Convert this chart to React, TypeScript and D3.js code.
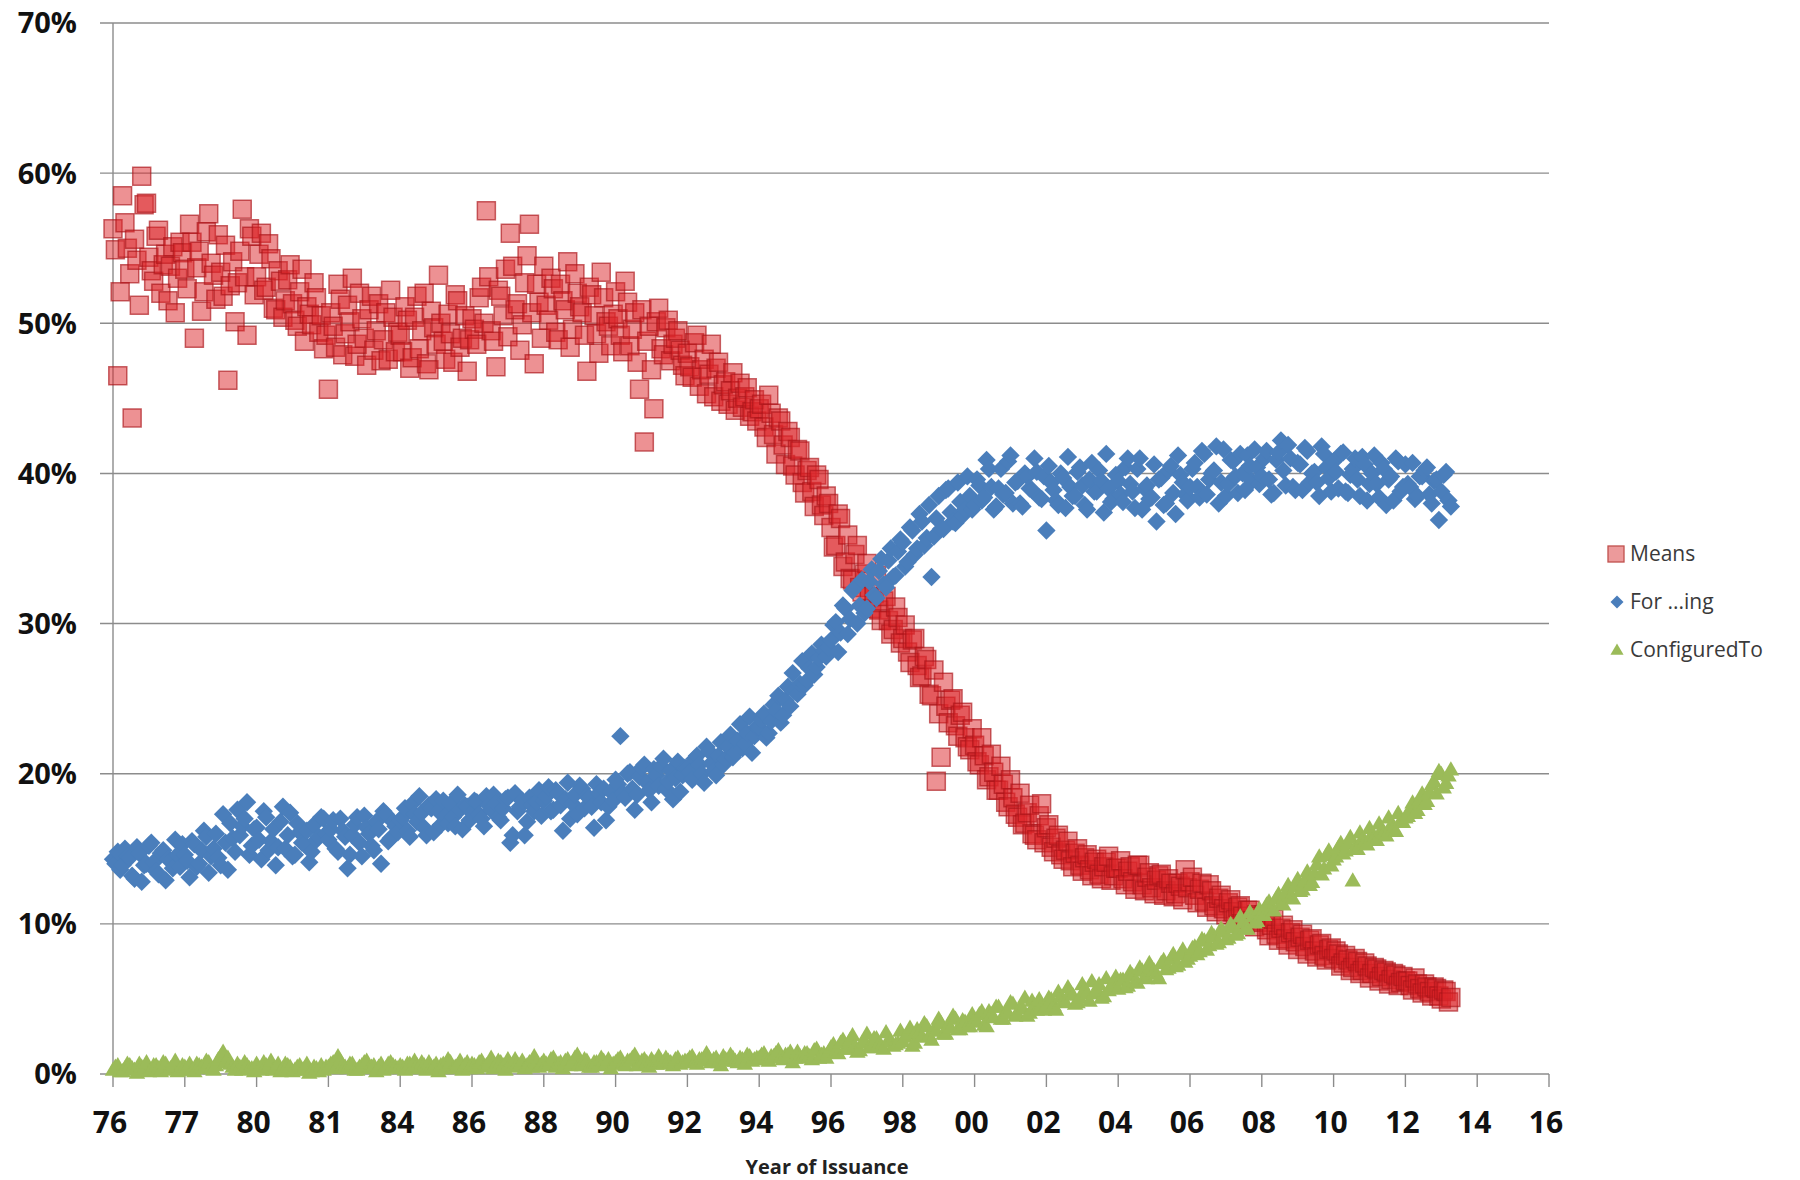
import { useEffect } from 'react';
import * as d3 from 'd3';

// x axis is a category-style axis: one tick label per position
const TICK_LABELS = ['76', '77', '80', '81', '84', '86', '88', '90', '92', '94', '96', '98', '00', '02', '04', '06', '08', '10', '12', '14', '16'];
const Y_TICKS = [0, 10, 20, 30, 40, 50, 60, 70];
const POINTS_PER_TICK = 15; // observations per array between two tick labels

// share of claims (%), one line per tick interval.
// "A" arrays sit on whole steps, "B" arrays on the half steps between them.
const meansA = [
  56.3, 46.5, 58.5, 55.0, 43.7, 54.2, 59.8, 58.0, 53.5, 55.8, 52.0, 54.6, 53.8, 50.7, 55.4,
  53.6, 56.6, 49.0, 54.8, 52.1, 57.3, 53.2, 55.9, 51.8, 46.2, 54.1, 52.7, 57.6, 49.2, 55.8,
  53.1, 56.0, 52.4, 54.3, 50.9, 52.8, 51.5, 53.9, 50.2, 52.1, 48.8, 50.6, 52.7, 49.4, 48.3,
  45.6, 49.8, 52.6, 47.9, 51.2, 53.0, 48.6, 50.3, 47.2, 51.8, 49.5, 47.5, 50.7, 52.2, 48.1,
  49.2, 51.1, 47.0, 50.4, 48.3, 52.0, 46.9, 49.7, 53.2, 48.8, 50.6, 47.4, 51.5, 49.0, 46.8,
  50.3, 48.6, 52.4, 57.5, 49.5, 47.1, 51.8, 53.6, 56.0, 50.9, 48.2, 52.7, 56.6, 47.3, 51.4,
  53.8, 50.2, 52.3, 48.9, 51.5, 54.1, 49.6, 52.0, 50.7, 46.8, 51.9, 49.3, 53.4, 50.1, 48.5,
  52.1, 49.2, 52.8, 48.5, 50.7, 45.6, 42.1, 49.8, 44.3, 51.0, 47.9, 50.2, 48.6, 49.5, 47.2,
  48.0, 46.4, 49.2, 46.9, 45.3, 48.6, 47.0, 44.8, 46.1, 45.5, 44.2, 46.0, 45.1, 43.8, 44.9,
  44.3, 43.1, 45.2, 42.6, 43.7, 41.9, 42.8, 40.5, 41.6, 39.4, 40.2, 38.8, 39.9, 37.9, 38.5,
  36.4, 35.2, 37.0, 34.1, 33.0, 34.6, 32.4, 33.3, 31.8, 32.0, 30.9, 31.5, 30.2, 29.6, 30.4,
  29.0, 28.1, 28.9, 27.2, 26.5, 27.6, 25.2, 19.5, 21.1, 24.5, 24.9, 23.2, 23.9, 22.4, 21.6,
  21.9, 20.6, 21.2, 19.8, 20.1, 18.9, 19.3, 17.8, 18.4, 17.1, 16.6, 17.4, 16.0, 15.6, 18.0,
  16.4, 15.1, 15.7, 14.6, 14.9, 14.2, 14.7, 13.9, 14.4, 13.6, 14.1, 13.3, 13.8, 14.5, 13.2,
  13.7, 13.0, 13.5, 12.8, 13.9, 12.6, 13.1, 12.4, 12.9, 13.3, 12.2, 12.7, 12.0, 12.5, 13.6,
  12.8, 11.9, 12.3, 11.5, 12.6, 11.2, 11.7, 11.0, 11.4, 10.8, 11.1, 10.5, 10.9, 10.2, 10.6,
  10.1, 9.6, 9.9, 9.3, 9.7, 9.0, 9.4, 8.8, 9.1, 8.5, 8.9, 8.2, 8.6, 7.9, 8.3,
  7.7, 8.0, 7.4, 7.6, 7.1, 7.5, 6.9, 7.2, 6.7, 7.0, 6.5, 6.8, 6.3, 6.6, 6.1,
  6.2, 5.9, 6.4, 5.7, 6.0, 5.5, 5.8, 5.2, 5.6, 4.8,
];
const meansB = [
  54.9, 52.1, 56.7, 53.3, 55.6, 51.2, 57.9, 54.4, 52.8, 56.2, 53.9, 51.5, 55.1, 53.0, 54.7,
  52.3, 55.4, 53.7, 50.8, 56.1, 54.0, 51.6, 53.4, 55.2, 52.5, 50.1, 54.8, 53.1, 56.3, 51.9,
  54.6, 52.2, 55.3, 51.0, 53.5, 50.4, 52.9, 51.3, 49.8, 53.6, 51.1, 49.9, 51.7, 50.5, 49.2,
  50.7, 48.4, 51.6, 49.3, 50.1, 47.8, 52.0, 49.0, 50.9, 48.2, 51.3, 48.9, 47.6, 50.4, 49.4,
  48.1, 50.2, 47.7, 51.8, 49.5, 47.3, 50.8, 48.6, 50.0, 47.6, 49.3, 51.9, 48.4, 50.5, 48.9,
  49.6, 51.7, 50.0, 53.1, 48.8, 52.2, 50.5, 49.1, 53.8, 51.3, 49.9, 54.5, 50.7, 52.6, 49.0,
  51.2, 53.0, 49.4, 52.6, 50.9, 48.4, 53.3, 51.1, 49.2, 52.4, 50.5, 48.0, 51.7, 49.8, 50.6,
  50.3, 48.1, 51.4, 49.6, 47.4, 50.9, 48.8, 46.9, 50.1, 48.3, 49.7, 47.5, 49.0, 48.2, 46.5,
  47.1, 48.7, 45.8, 47.6, 46.6, 45.1, 47.4, 45.9, 44.6, 46.7, 45.0, 44.4, 45.7, 44.1, 43.5,
  44.6, 42.4, 44.0, 41.3, 43.5, 40.6, 42.4, 39.9, 41.5, 38.7, 40.4, 37.8, 39.6, 37.2, 38.0,
  35.1, 37.3, 33.8, 35.9, 32.9, 35.2, 32.1, 34.0, 31.0, 33.2, 30.2, 31.8, 29.3, 31.1, 28.7,
  29.9, 27.4, 29.0, 26.4, 27.8, 25.3, 26.9, 24.0, 26.1, 23.4, 25.0, 22.5, 24.1, 21.8, 23.0,
  20.8, 22.4, 19.6, 21.3, 18.9, 20.5, 18.1, 19.6, 17.3, 18.7, 16.7, 17.9, 15.9, 17.2, 15.4,
  16.6, 14.8, 15.9, 14.3, 15.5, 13.8, 15.0, 13.5, 14.6, 13.2, 14.3, 13.0, 14.1, 12.9, 13.7,
  14.2, 12.6, 13.8, 12.3, 13.9, 12.2, 13.4, 12.0, 13.2, 11.9, 13.0, 11.8, 12.7, 11.6, 12.4,
  13.1, 11.4, 12.7, 11.1, 12.2, 10.8, 11.9, 10.6, 11.6, 10.3, 11.2, 10.0, 10.9, 9.8, 10.5,
  10.6, 9.2, 10.3, 8.9, 9.9, 8.6, 9.6, 8.3, 9.3, 8.0, 9.0, 7.8, 8.7, 7.6, 8.4,
  8.2, 7.2, 7.9, 6.9, 7.7, 6.7, 7.4, 6.4, 7.1, 6.2, 6.9, 6.0, 6.7, 5.9, 6.5,
  6.2, 5.6, 6.0, 5.4, 5.8, 5.2, 5.7, 5.0, 5.5, 5.1,
];

const forIngA = [
  14.3, 14.8, 13.9, 14.5, 13.2, 15.1, 12.8, 14.0, 15.4, 13.5, 14.7, 12.9, 14.2, 15.6, 13.8,
  14.6, 13.1, 15.3, 14.0, 16.2, 13.4, 15.0, 14.4, 17.3, 13.6, 15.7, 17.6, 16.5, 18.1, 15.2,
  16.4, 14.3, 17.1, 15.5, 13.9, 16.8, 15.0, 17.4, 14.6, 16.1, 15.3, 14.1, 16.6, 15.8, 17.0,
  15.6, 16.9, 14.8, 16.2, 13.7, 15.9, 17.1, 14.5, 16.4, 15.2, 16.8, 14.0, 17.3, 15.7, 16.5,
  16.9, 17.7, 15.8, 17.3, 18.5, 16.4, 17.9, 16.1, 17.5, 18.2, 16.7, 17.1, 18.6, 16.3, 17.8,
  17.4, 18.1, 17.0, 18.5, 17.6, 18.0, 16.9, 18.3, 15.4, 18.7, 17.8, 15.9, 18.4, 17.5, 18.9,
  18.2, 19.1, 17.6, 18.7, 16.2, 19.4, 18.0, 17.3, 19.0, 18.5, 17.8, 19.3, 18.1, 16.9, 18.8,
  19.6, 22.5, 18.4, 20.1, 17.6, 19.8, 20.6, 18.9, 20.3, 19.2, 21.0, 19.5, 18.3, 20.8, 19.9,
  20.4, 19.6, 21.2, 20.0, 21.8, 20.7, 19.9, 22.1, 21.0, 22.6, 21.4, 23.3, 22.0, 23.8, 22.5,
  23.1, 24.0, 22.7, 24.6, 25.2, 23.9, 25.8, 26.7, 25.3, 27.5, 26.2, 28.0, 27.1, 28.6, 27.8,
  28.9, 30.1, 29.4, 31.0, 30.3, 32.4, 31.2, 30.7, 32.8, 31.9, 33.5, 32.6, 34.2, 33.1, 34.8,
  35.4, 34.1, 36.2, 35.0, 36.8, 35.7, 33.1, 37.0, 36.3, 38.9, 37.4, 36.7, 38.1, 37.6, 38.5,
  37.9, 39.2, 38.4, 40.3, 37.6, 39.0, 38.6, 40.8, 38.0, 39.5, 37.8, 39.8, 38.9, 40.1, 38.3,
  36.2, 39.4, 38.2, 40.0, 37.7, 39.1, 38.5, 40.4, 37.9, 39.6, 38.8, 40.2, 37.4, 39.0, 38.3,
  39.5, 38.1, 41.0, 38.8, 40.3, 37.6, 39.2, 38.4, 36.8, 39.7, 38.0, 40.5, 37.3, 39.9, 38.6,
  39.1, 40.7, 38.4, 41.3, 39.6, 40.2, 38.0, 41.6, 39.3, 40.8, 38.7, 40.0, 41.2, 39.5, 40.4,
  39.8, 41.5, 38.6, 40.9, 42.2, 39.2, 41.0, 38.9, 40.6, 41.7, 39.4, 40.1, 38.5, 41.3, 39.7,
  40.8, 39.0, 41.4, 38.7, 40.3, 39.6, 41.1, 38.2, 40.0, 39.3, 40.7, 37.9, 39.8, 41.0, 38.8,
  40.6, 39.1, 38.3, 39.8, 40.2, 38.6, 39.5, 36.9, 39.9, 38.2,
];
const forIngB = [
  14.0, 13.6, 15.0, 14.4, 13.0, 14.7, 13.9, 15.2, 14.1, 13.3, 14.9, 14.3, 13.7, 14.6, 15.3,
  14.2, 15.5, 13.8, 14.9, 15.8, 14.5, 16.0, 13.9, 15.4, 16.7, 14.8, 15.9, 17.0, 14.6, 16.3,
  15.6, 17.5, 14.9, 16.3, 15.1, 17.8, 15.9, 14.5, 16.7, 15.4, 16.2, 14.8, 15.6, 17.1, 16.0,
  16.3, 15.0, 17.0, 15.8, 14.6, 16.6, 15.4, 17.2, 16.0, 14.9, 16.3, 17.5, 15.5, 16.8, 16.1,
  17.1, 16.2, 18.0, 16.8, 17.4, 15.9, 17.7, 18.3, 16.6, 17.2, 18.0, 16.5, 17.6, 17.9, 16.9,
  18.2, 17.3, 16.5, 17.9, 18.6, 17.1, 17.7, 18.4, 15.9, 17.5, 18.2, 16.8, 17.9, 18.1, 17.2,
  18.5, 17.5, 18.9, 17.9, 18.3, 17.0, 18.6, 19.2, 17.7, 18.4, 16.4, 18.7, 19.0, 17.8, 18.2,
  19.3, 18.7, 20.0, 19.0, 18.6, 20.4, 19.4, 18.1, 19.9, 20.5, 19.0, 20.2, 19.7, 18.8, 20.4,
  20.1, 21.0, 20.6, 19.4, 21.5, 20.2, 21.2, 20.6, 21.8, 21.1, 22.2, 21.7, 22.7, 21.4, 23.1,
  23.6, 22.4, 23.5, 24.2, 23.4, 24.9, 24.5, 25.6, 26.0, 25.9, 27.0, 26.6, 27.7, 28.2, 28.4,
  29.9, 28.1, 31.2, 29.3, 32.2, 30.0, 32.9, 31.0, 33.6, 31.7, 34.3, 32.4, 35.0, 33.2, 35.6,
  33.8, 36.4, 34.6, 37.3, 35.2, 37.9, 35.8, 38.5, 36.3, 39.0, 36.8, 39.4, 37.2, 39.8, 37.6,
  39.6, 38.2, 40.9, 39.1, 37.8, 40.3, 38.7, 41.2, 39.4, 38.0, 40.0, 39.0, 41.0, 38.4, 39.8,
  40.5, 38.9, 37.9, 39.7, 41.1, 38.5, 40.1, 39.2, 37.6, 40.7, 38.8, 39.5, 41.3, 38.1, 39.9,
  38.6, 40.4, 39.3, 37.7, 41.0, 39.0, 38.3, 40.6, 39.6, 37.9, 40.2, 38.7, 41.2, 39.4, 38.2,
  40.3, 39.1, 41.5, 38.6, 40.0, 41.8, 39.4, 38.5, 40.9, 39.8, 41.3, 38.9, 40.5, 41.6, 39.3,
  41.0, 39.6, 38.7, 41.4, 40.2, 41.9, 39.1, 40.7, 38.9, 41.5, 40.0, 39.4, 41.8, 40.4, 38.8,
  40.1, 41.3, 38.8, 39.9, 41.0, 38.5, 40.6, 39.3, 41.2, 38.4, 40.3, 39.6, 38.2, 40.8, 39.1,
  39.3, 40.7, 38.5, 39.8, 40.4, 38.0, 39.6, 38.8, 40.1, 37.8,
];

const configuredToA = [
  0.2, 0.5, 0.1, 0.6, 0.3, 0.0, 0.4, 0.7, 0.2, 0.5, 0.1, 0.6, 0.3, 0.8, 0.2,
  0.4, 0.6, 0.1, 0.5, 0.3, 0.7, 0.2, 0.9, 1.4, 1.0, 0.4, 0.6, 0.2, 0.5, 0.3,
  0.6, 0.2, 0.5, 0.8, 0.3, 0.1, 0.6, 0.4, 0.2, 0.5, 0.3, 0.0, 0.4, 0.1, 0.2,
  0.4, 0.7, 1.1, 0.5, 0.3, 0.6, 0.2, 0.5, 0.8, 0.4, 0.1, 0.6, 0.3, 0.7, 0.4,
  0.5, 0.2, 0.6, 0.8, 0.3, 0.5, 0.7, 0.4, 0.1, 0.6, 0.9, 0.3, 0.5, 0.2, 0.7,
  0.6, 0.3, 0.8, 0.5, 1.0, 0.4, 0.7, 0.2, 0.6, 0.9, 0.5, 0.3, 0.7, 1.1, 0.4,
  0.8, 0.5, 1.0, 0.6, 0.3, 0.9, 0.7, 1.2, 0.5, 0.8, 0.4, 0.7, 1.0, 0.6, 0.3,
  0.7, 1.0, 0.5, 0.8, 1.2, 0.6, 0.9, 0.4, 0.7, 1.1, 0.6, 0.8, 0.5, 1.0, 0.7,
  0.8, 1.1, 0.6, 0.9, 1.3, 0.7, 1.0, 0.5, 0.9, 1.2, 0.8, 1.0, 0.6, 1.1, 0.9,
  1.0, 1.3, 0.8, 1.1, 1.5, 0.9, 1.2, 0.7, 1.4, 1.0, 1.3, 0.9, 1.6, 1.2, 1.0,
  1.7, 1.4, 2.0, 1.6, 2.2, 1.8, 1.5, 2.1, 1.7, 2.3, 1.9, 1.6, 2.2, 1.8, 2.0,
  2.1, 2.6, 1.8, 2.9, 2.4, 3.1, 2.2, 2.8, 3.3, 2.6, 3.0, 3.6, 2.9, 3.4, 3.1,
  3.5, 3.9, 3.2, 4.1, 3.7, 4.4, 3.6, 4.0, 4.6, 3.9, 4.3, 3.8, 4.8, 4.2, 4.5,
  4.4, 4.9, 4.2, 5.1, 4.7, 5.4, 4.6, 5.0, 5.6, 4.8, 5.3, 5.9, 5.1, 5.5, 6.0,
  5.6, 6.2, 5.8, 6.5, 6.0, 6.8, 6.3, 7.0, 6.6, 7.3, 6.9, 7.6, 7.1, 7.9, 7.4,
  7.8, 8.4, 8.1, 8.8, 8.5, 9.1, 8.7, 9.4, 9.0, 9.7, 9.3, 10.0, 9.6, 10.4, 10.1,
  10.6, 11.2, 10.9, 11.6, 11.3, 12.0, 11.7, 12.4, 12.1, 12.8, 12.5, 13.3, 14.4, 13.6, 14.8,
  14.2, 15.0, 14.6, 15.3, 12.8, 14.9, 15.6, 15.2, 15.9, 15.5, 16.2, 15.8, 16.5, 16.1, 16.8,
  17.0, 17.6, 17.3, 18.2, 17.9, 18.7, 19.4, 20.1, 19.0, 19.8,
];
const configuredToB = [
  0.4, 0.1, 0.3, 0.5, 0.2, 0.6, 0.3, 0.1, 0.5, 0.3, 0.7, 0.2, 0.4, 0.1, 0.5,
  0.3, 0.2, 0.6, 0.4, 0.8, 0.3, 0.5, 1.1, 0.7, 0.6, 0.2, 0.4, 0.7, 0.3, 0.1,
  0.3, 0.7, 0.4, 0.2, 0.6, 0.3, 0.5, 0.1, 0.4, 0.2, 0.6, 0.1, 0.3, 0.5, 0.4,
  0.6, 0.3, 0.8, 0.4, 0.6, 0.2, 0.4, 0.7, 0.3, 0.5, 0.4, 0.2, 0.6, 0.5, 0.3,
  0.4, 0.6, 0.3, 0.5, 0.7, 0.2, 0.4, 0.6, 0.5, 0.3, 0.7, 0.4, 0.8, 0.5, 0.3,
  0.5, 0.7, 0.4, 0.6, 0.3, 0.8, 0.5, 0.9, 0.4, 0.6, 0.8, 0.5, 0.4, 0.7, 0.6,
  0.6, 0.9, 0.4, 0.7, 0.8, 0.5, 1.0, 0.6, 0.9, 0.4, 0.7, 0.5, 0.8, 0.9, 0.6,
  0.9, 0.6, 0.8, 1.0, 0.5, 0.8, 0.7, 0.9, 0.6, 0.8, 1.0, 0.7, 0.9, 0.6, 0.8,
  1.0, 0.7, 0.9, 0.8, 1.0, 0.9, 0.7, 1.1, 0.8, 1.0, 0.7, 0.9, 1.2, 0.8, 1.0,
  1.2, 0.9, 1.1, 1.3, 1.0, 1.2, 1.4, 1.0, 1.1, 1.3, 1.1, 1.5, 1.0, 1.3, 1.4,
  1.9, 1.3, 2.2, 1.6, 2.5, 1.4, 2.0, 2.6, 1.7, 2.3, 1.8, 2.7, 2.1, 1.9, 2.8,
  2.4, 3.0, 2.0, 2.7, 3.3, 2.5, 2.9, 3.6, 2.6, 3.2, 3.8, 2.9, 3.5, 3.1, 3.9,
  3.4, 4.1, 3.1, 3.9, 4.4, 3.6, 4.0, 4.7, 3.8, 4.3, 5.0, 4.0, 4.5, 4.9, 4.2,
  5.0, 4.5, 5.4, 4.8, 5.7, 5.2, 4.7, 5.9, 5.3, 6.1, 5.5, 5.0, 6.3, 5.8, 6.4,
  6.2, 5.7, 6.7, 6.1, 7.0, 6.4, 7.3, 6.8, 6.3, 7.5, 7.0, 7.9, 7.2, 8.2, 7.6,
  8.3, 7.9, 8.9, 8.2, 9.3, 8.6, 9.6, 8.9, 9.9, 9.2, 10.4, 9.6, 10.7, 10.0, 10.9,
  10.5, 11.4, 10.8, 11.9, 11.2, 12.5, 11.6, 12.9, 12.2, 13.4, 12.7, 13.9, 13.2, 14.5, 13.8,
  14.4, 15.3, 14.8, 15.7, 15.0, 16.0, 15.4, 16.3, 15.7, 16.6, 16.0, 17.0, 16.3, 17.3, 16.7,
  17.1, 18.0, 17.5, 18.6, 18.1, 19.2, 18.6, 19.9, 19.3, 20.2,
];

const FONT = '"Open Sans", "DejaVu Sans", sans-serif';
const AXIS_COLOR = '#8c8c8c';

// merge the whole-step and half-step observations into one point list
function toPoints(a, b) {
  const pts = [];
  a.forEach((v, i) => pts.push({ t: i / POINTS_PER_TICK, v }));
  b.forEach((v, i) => pts.push({ t: (i + 0.5) / POINTS_PER_TICK, v }));
  return pts.sort((p, q) => p.t - q.t);
}

export default function App() {
  useEffect(() => {
    document.body.style.margin = '0';
  }, []);

  const x = d3.scaleLinear().domain([0, TICK_LABELS.length - 1]).range([113, 1549]);
  const y = d3.scaleLinear().domain([0, 70]).range([1074, 23]);

  const square = d3.symbol(d3.symbolSquare, 18 * 18)();
  const diamond = d3.symbol(d3.symbolSquare, 13 * 13)();
  const triangle = d3.symbol(d3.symbolTriangle, 118)();

  const means = toPoints(meansA, meansB);
  const forIng = toPoints(forIngA, forIngB);
  const configuredTo = toPoints(configuredToA, configuredToB);

  const legend = [
    { label: 'Means', kind: 'square' },
    { label: 'For ...ing', kind: 'diamond' },
    { label: 'ConfiguredTo', kind: 'triangle' },
  ];

  return (
    <svg width={1800} height={1180} style={{ display: 'block', background: '#fff' }}>
      {/* grid + y ticks */}
      {Y_TICKS.map((t) => (
        <g key={t}>
          {t > 0 && (
            <line x1={100} x2={x.range()[1]} y1={y(t)} y2={y(t)} stroke={AXIS_COLOR} strokeWidth={1.4} />
          )}
          <text x={77} y={y(t)} dy="0.36em" textAnchor="end" fontFamily={FONT} fontWeight={700} fontSize={29} fill="#111">
            {t}%
          </text>
        </g>
      ))}

      {/* axes */}
      <line x1={x(0)} x2={x(0)} y1={y(70)} y2={y(0)} stroke={AXIS_COLOR} strokeWidth={1.4} />
      <line x1={100} x2={x.range()[1]} y1={y(0)} y2={y(0)} stroke={AXIS_COLOR} strokeWidth={1.4} />
      {TICK_LABELS.map((lab, i) => (
        <g key={lab + i}>
          <line x1={x(i)} x2={x(i)} y1={y(0)} y2={y(0) + 13} stroke={AXIS_COLOR} strokeWidth={1.4} />
          <text x={x(i) - 3} y={1133} textAnchor="middle" fontFamily={FONT} fontWeight={700} fontSize={30} fill="#111">
            {lab}
          </text>
        </g>
      ))}
      <text x={827} y={1174} textAnchor="middle" fontFamily={FONT} fontWeight={700} fontSize={20} fill="#222">
        Year of Issuance
      </text>

      {/* series: Means, For ...ing, ConfiguredTo (drawn in that order) */}
      <g>
        {means.map((p, i) => (
          <path key={i} d={square} transform={`translate(${x(p.t)},${y(p.v)})`}
            fill="rgba(220,35,40,0.5)" stroke="rgba(170,20,25,0.65)" strokeWidth={1.5} />
        ))}
      </g>
      <g>
        {forIng.map((p, i) => (
          <path key={i} d={diamond} transform={`translate(${x(p.t)},${y(p.v)}) rotate(45)`} fill="#4a7ebb" />
        ))}
      </g>
      <g>
        {configuredTo.map((p, i) => (
          <path key={i} d={triangle} transform={`translate(${x(p.t)},${y(p.v)})`} fill="#9bbb59" />
        ))}
      </g>

      {/* legend */}
      {legend.map((d, i) => {
        const cy = 554 + i * 48;
        return (
          <g key={d.label}>
            {d.kind === 'square' && (
              <rect x={1608} y={cy - 8} width={16} height={16} fill="#ec9a9b" stroke="#c0504d" strokeWidth={1.3} />
            )}
            {d.kind === 'diamond' && (
              <path d={d3.symbol(d3.symbolSquare, 85)()} transform={`translate(1617,${cy}) rotate(45)`} fill="#4a7ebb" />
            )}
            {d.kind === 'triangle' && (
              <path d={d3.symbol(d3.symbolTriangle, 75)()} transform={`translate(1617,${cy + 1})`} fill="#9bbb59" />
            )}
            <text x={1630} y={cy} dy="0.35em" fontFamily={FONT} fontSize={21} fill="#3a3a3a">
              {d.label}
            </text>
          </g>
        );
      })}
    </svg>
  );
}
